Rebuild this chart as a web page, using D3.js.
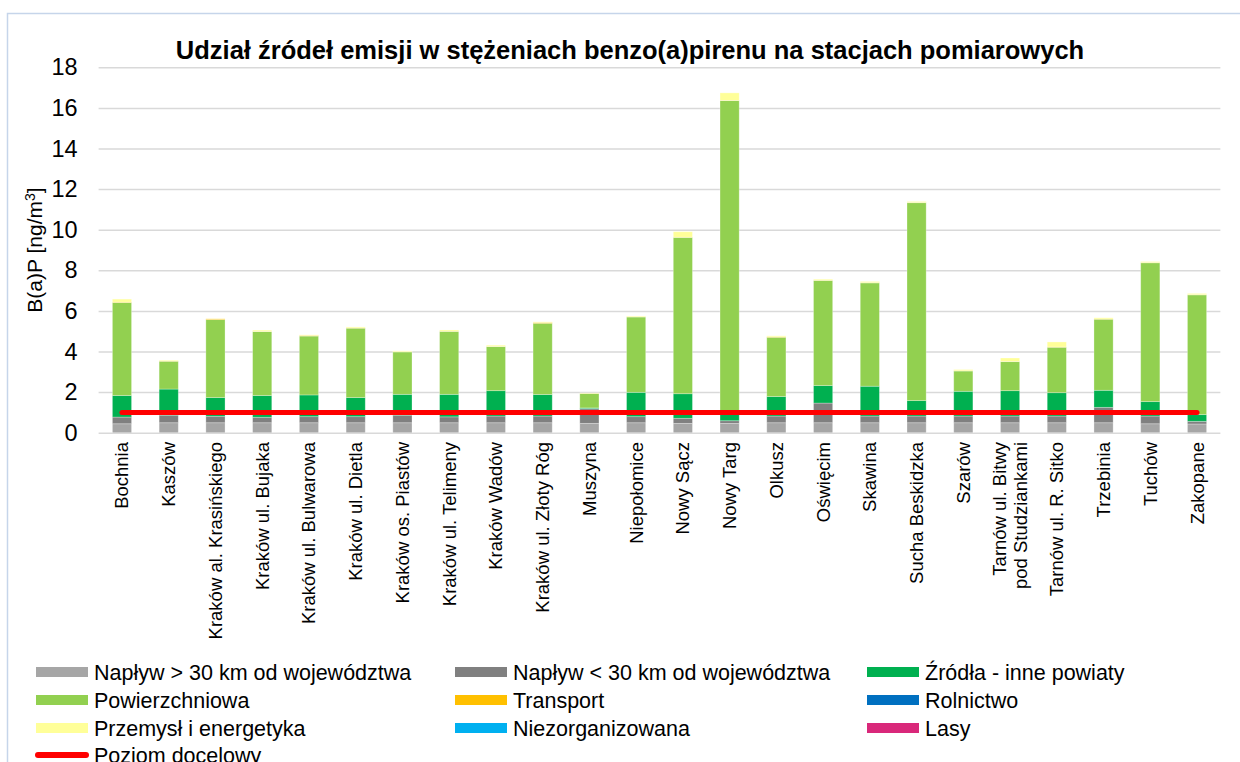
<!DOCTYPE html>
<html>
<head>
<meta charset="utf-8">
<script src="https://cdn.jsdelivr.net/npm/d3@7"></script>
<style>
body { margin: 0; background: #fff; }
text { font-family: Arial, "Liberation Sans", sans-serif; fill: #000; }
</style>
</head>
<body>
<svg></svg>
<script>
const size = {w: 1240, h: 762};
const plot = {l: 98.6, r: 1220.4, t: 67.3, b: 432.7};
const svg = d3.select('svg');

svg.attr('width', size.w)
    .attr('height', size.h);

// stations on the x axis
const stations = ['Bochnia', 'Kaszów', 'Kraków al. Krasińskiego', 'Kraków ul. Bujaka',
    'Kraków ul. Bulwarowa', 'Kraków ul. Dietla', 'Kraków os. Piastów', 'Kraków ul. Telimeny',
    'Kraków Wadów', 'Kraków ul. Złoty Róg', 'Muszyna', 'Niepołomice', 'Nowy Sącz', 'Nowy Targ',
    'Olkusz', 'Oświęcim', 'Skawina', 'Sucha Beskidzka', 'Szarów',
    'Tarnów ul. Bitwy\npod Studziankami', 'Tarnów ul. R. Sitko', 'Trzebinia', 'Tuchów', 'Zakopane'];

// source contributions, ng/m3
const naplywFar = [0.44, 0.49, 0.49, 0.49, 0.49, 0.49, 0.49, 0.49, 0.49, 0.49, 0.46, 0.49,
    0.46, 0.46, 0.49, 0.49, 0.49, 0.49, 0.49, 0.49, 0.49, 0.49, 0.44, 0.43];
const naplywNear = [0.33, 0.37, 0.32, 0.27, 0.30, 0.30, 0.37, 0.29, 0.33, 0.33, 0.72, 0.30,
    0.25, 0.13, 0.33, 0.97, 0.33, 0.33, 0.33, 0.33, 0.33, 0.76, 0.38, 0.13];
const zrodlaInne = [1.06, 1.29, 0.92, 1.07, 1.07, 0.94, 1.03, 1.11, 1.25, 1.06, 0.04, 1.20,
    1.21, 0.36, 0.96, 0.86, 1.47, 0.76, 1.22, 1.25, 1.15, 0.84, 0.71, 0.33];
const powierzchniowa = [4.58, 1.37, 3.84, 3.15, 2.90, 3.42, 2.09, 3.10, 2.17, 3.51, 0.71, 3.71,
    7.70, 15.41, 2.92, 5.18, 5.09, 9.75, 1.00, 1.43, 2.24, 3.50, 6.84, 5.90];
const transport = [0.02, 0.01, 0.04, 0.01, 0.03, 0.01, 0.01, 0.01, 0.01, 0.04, 0.01, 0.01,
    0.01, 0.01, 0.02, 0.01, 0.01, 0.01, 0.01, 0.01, 0.01, 0.01, 0.01, 0.01];
const rolnictwo = [0, 0, 0, 0, 0, 0, 0, 0, 0, 0, 0, 0, 0, 0, 0, 0, 0, 0, 0, 0, 0, 0, 0, 0];
const przemysl = [0.15, 0.04, 0.01, 0.06, 0.03, 0.05, 0.04, 0.06, 0.06, 0.03, 0.02, 0.04,
    0.27, 0.37, 0.05, 0.05, 0.06, 0.05, 0.06, 0.17, 0.25, 0.06, 0.05, 0.06];
const niezorganizowana = [0, 0, 0, 0, 0, 0, 0, 0, 0, 0, 0, 0, 0, 0, 0, 0, 0, 0, 0, 0, 0, 0, 0, 0];
const lasy = [0, 0, 0, 0, 0, 0, 0, 0, 0, 0, 0, 0, 0, 0, 0, 0, 0, 0, 0, 0, 0, 0, 0, 0];
const targetLevel = 1;
const yTicks = [0, 2, 4, 6, 8, 10, 12, 14, 16, 18];

const seriesNames = ['Napływ > 30 km od województwa', 'Napływ < 30 km od województwa',
    'Źródła - inne powiaty', 'Powierzchniowa', 'Transport', 'Rolnictwo',
    'Przemysł i energetyka', 'Niezorganizowana', 'Lasy'];
const seriesValues = [naplywFar, naplywNear, zrodlaInne, powierzchniowa, transport,
    rolnictwo, przemysl, niezorganizowana, lasy];
const colorPalette = ['#a6a6a6', '#808080', '#00b050', '#92d050', '#ffc000',
    '#0070c0', '#ffff99', '#00b0f0', '#d9287a'];

// outer chart border
svg.append('rect')
    .attr('x', 7.5).attr('y', 13.5)
    .attr('width', 1260).attr('height', 800)
    .attr('fill', 'none')
    .attr('stroke', '#c6d5ea')
    .attr('stroke-width', 1.5);

svg.append('text')
    .attr('x', 630).attr('y', 59)
    .attr('text-anchor', 'middle')
    .style('font-size', '25.5px')
    .style('font-weight', 'bold')
    .text('Udział źródeł emisji w stężeniach benzo(a)pirenu na stacjach pomiarowych');

//SCALES
let scaleX = d3.scaleBand()
    .domain(stations)
    .range([plot.l, plot.r])
    .paddingInner(0.59)
    .paddingOuter(0.295);

let scaleY = d3.scaleLinear()
    .domain([0, 18])
    .range([plot.b, plot.t]);

let colorScale = d3.scaleOrdinal()
    .domain(seriesNames)
    .range(colorPalette);

//GRIDLINES + Y AXIS
let axisY = d3.axisLeft(scaleY)
    .tickValues(yTicks)
    .tickSize(-(plot.r - plot.l))
    .tickPadding(21);

let axisG = svg.append('g')
    .attr('transform', `translate(${plot.l}, 0)`)
    .call(axisY);
axisG.select('.domain').remove();
axisG.selectAll('line')
    .attr('stroke', '#d9d9d9')
    .attr('stroke-width', 1.5);
axisG.selectAll('text')
    .style('font-size', '23.5px')
    .attr('fill', '#000');

svg.append('text')
    .attr('transform', `translate(42, ${(plot.t + plot.b) / 2}) rotate(-90)`)
    .attr('text-anchor', 'middle')
    .style('font-size', '21px')
    .call(t => {
        t.append('tspan').text('B(a)P [ng/m');
        t.append('tspan').attr('dy', -7).style('font-size', '14px').text('3');
        t.append('tspan').attr('dy', 7).text(']');
    });

//STACKED BARS
let rows = stations.map((s, i) => {
    let row = {station: s};
    seriesNames.forEach((k, j) => row[k] = seriesValues[j][i]);
    return row;
});

let stacked = d3.stack().keys(seriesNames)(rows);

svg.append('g').selectAll('g')
    .data(stacked)
    .join('g')
    .attr('fill', d => colorScale(d.key))
    .selectAll('rect')
    .data(d => d)
    .join('rect')
    .attr('x', d => scaleX(d.data.station))
    .attr('width', scaleX.bandwidth())
    .attr('y', d => scaleY(d[1]))
    .attr('height', d => scaleY(d[0]) - scaleY(d[1]))
    .attr('stroke', '#fff')
    .attr('stroke-opacity', 0.35)
    .attr('stroke-width', 0.8);

//TARGET LEVEL
let half = scaleX.bandwidth() / 2;
svg.append('line')
    .attr('x1', scaleX(stations[0]) + half)
    .attr('x2', scaleX(stations[stations.length - 1]) + half)
    .attr('y1', scaleY(targetLevel))
    .attr('y2', scaleY(targetLevel))
    .attr('stroke', '#ff0000')
    .attr('stroke-width', 5)
    .attr('stroke-linecap', 'round');

//X LABELS
let labels = svg.append('g').selectAll('g')
    .data(stations)
    .join('g')
    .attr('transform', d => `translate(${scaleX(d) + half}, 442) rotate(-90)`);

labels.each(function(d) {
    let lines = d.split('\n');
    let t = d3.select(this).append('text')
        .attr('text-anchor', 'end')
        .style('font-size', '18.5px');
    lines.forEach((line, k) => {
        t.append('tspan')
            .attr('x', 0)
            .attr('y', 0)
            .attr('dy', `${(k - (lines.length - 1) / 2) * 1.15 + 0.35}em`)
            .text(line);
    });
});

//LEGEND
let legend = svg.append('g');
let colX = [36, 455, 867];
let rowY = [672, 700, 728, 755];

seriesNames.forEach((name, i) => {
    let x = colX[i % 3];
    let y = rowY[Math.floor(i / 3)];
    legend.append('rect')
        .attr('x', x).attr('y', y - 5)
        .attr('width', 52).attr('height', 10)
        .attr('fill', colorScale(name));
    legend.append('text')
        .attr('x', x + 58).attr('y', y)
        .attr('dy', '0.35em')
        .style('font-size', '21.5px')
        .text(name);
});

legend.append('line')
    .attr('x1', 38).attr('x2', 86)
    .attr('y1', rowY[3]).attr('y2', rowY[3])
    .attr('stroke', '#ff0000')
    .attr('stroke-width', 6)
    .attr('stroke-linecap', 'round');
legend.append('text')
    .attr('x', 94).attr('y', rowY[3])
    .attr('dy', '0.35em')
    .style('font-size', '21.5px')
    .text('Poziom docelowy');
</script>
</body>
</html>
